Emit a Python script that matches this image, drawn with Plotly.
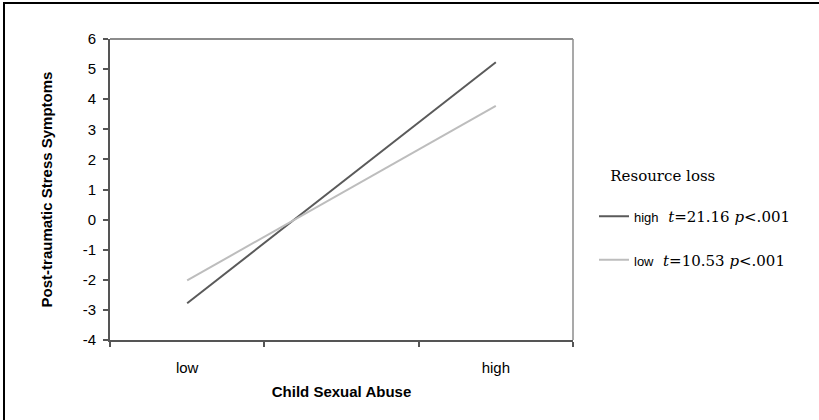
import plotly.graph_objects as go

# ---- data ----
categories = ["low", " ", "high"]
x_points = ["low", "high"]
high_loss = [-2.78, 5.23]
low_loss = [-2.02, 3.78]
series_names = [
    "<span style='font-family:Liberation Sans;font-size:13px'>high</span>  <i>t</i>=21.16 <i>p</i>&lt;.001",
    "<span style='font-family:Liberation Sans;font-size:13px'>low</span>  <i>t</i>=10.53 <i>p</i>&lt;.001",
]
y_ticks = list(range(-4, 7))
y_ticktext = [str(v) for v in y_ticks]

W, H = 819, 420
L, R, T, B = 110, 246, 39, 80
pw, ph = W - L - R, H - T - B

fig = go.Figure()
fig.add_trace(go.Scatter(x=x_points, y=high_loss, mode="lines", name=series_names[0],
                         legendgroup="a", line=dict(color="#5a5a5a", width=2)))
fig.add_trace(go.Scatter(x=x_points, y=low_loss, mode="lines", name=series_names[1],
                         legendgroup="b", line=dict(color="#bdbdbd", width=2)))

def px_x(p):
    return (p - L) / pw

def px_y(p):
    return (H - B - p) / ph

shapes = [
    dict(type="line", xref="paper", yref="paper", x0=0, x1=1, y0=1, y1=1, line=dict(color="#8c8c8c", width=2)),
    dict(type="line", xref="paper", yref="paper", x0=1, x1=1, y0=0, y1=1, line=dict(color="#8c8c8c", width=1.5)),
    dict(type="line", xref="paper", yref="paper", x0=px_x(3), x1=px_x(W), y0=px_y(3), y1=px_y(3), line=dict(color="black", width=2)),
    dict(type="line", xref="paper", yref="paper", x0=px_x(4), x1=px_x(4), y0=px_y(2), y1=px_y(H), line=dict(color="black", width=2)),
]

fig.update_layout(
    width=W, height=H,
    margin=dict(l=L, r=R, t=T, b=B, autoexpand=False),
    paper_bgcolor="white", plot_bgcolor="white",
    font=dict(family="Liberation Sans", size=15, color="black"),
    showlegend=True,
    legend=dict(
        xref="container", yref="container",
        x=594 / W, y=1 - 161 / H, xanchor="left", yanchor="top",
        font=dict(family="DejaVu Serif", size=15, color="black"),
        title=dict(text="&nbsp;&nbsp;&nbsp;Resource loss<br> ", font=dict(family="DejaVu Serif", size=15)),
        tracegroupgap=21,
        bgcolor="rgba(0,0,0,0)",
    ),
    shapes=shapes,
    xaxis=dict(
        type="category", categoryorder="array", categoryarray=categories,
        range=[-0.5, 2.5], tickson="boundaries", automargin=False,
        ticks="outside", ticklen=5, tickcolor="#555", tickwidth=1.5,
        showline=True, linecolor="#555", linewidth=2,
        showgrid=False, zeroline=False,
        tickfont=dict(size=15), ticklabelstandoff=13,
        title=dict(text="<b>Child Sexual Abuse</b>", font=dict(size=15), standoff=11),
    ),
    yaxis=dict(
        range=[-4, 6], tickvals=y_ticks, ticktext=y_ticktext, automargin=False,
        ticks="outside", ticklen=5, tickcolor="#555", tickwidth=1.5,
        showline=True, linecolor="#555", linewidth=2,
        showgrid=False, zeroline=False,
        tickfont=dict(size=15), ticklabelstandoff=4,
        title=dict(text="<b>Post-traumatic Stress Symptoms</b>", font=dict(size=15), standoff=26),
    ),
)

fig.write_html(
    "out.html", config={"displayModeBar": False},
    post_script="document.body.style.margin='0px';document.body.style.overflow='hidden';document.documentElement.style.overflow='hidden';",
)
